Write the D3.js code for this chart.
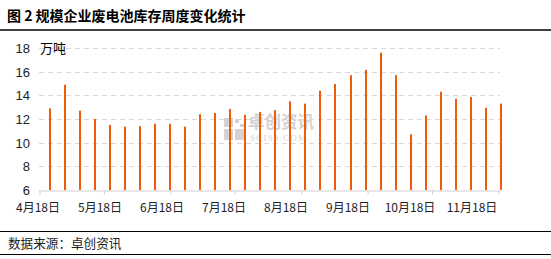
<!DOCTYPE html>
<html><head><meta charset="utf-8">
<script src="https://cdn.jsdelivr.net/npm/d3@7"></script>
<style>
html,body{margin:0;padding:0;background:#fff;}
svg{display:block;font-family:"Noto Sans CJK SC","Noto Sans",sans-serif;}
</style></head>
<body><svg id="c" width="551" height="259"></svg>
<script>
const dates = ["2024-04-23","2024-04-30","2024-05-07","2024-05-14","2024-05-21","2024-05-28",
"2024-06-04","2024-06-11","2024-06-18","2024-06-25","2024-07-02","2024-07-09","2024-07-16",
"2024-07-23","2024-07-30","2024-08-06","2024-08-13","2024-08-20","2024-08-27","2024-09-03",
"2024-09-10","2024-09-17","2024-09-24","2024-10-01","2024-10-08","2024-10-15","2024-10-22",
"2024-10-29","2024-11-05","2024-11-12","2024-11-19"];
const values = [12.9,14.9,12.7,12.0,11.5,11.35,11.4,11.6,11.6,11.35,12.4,12.5,12.85,12.35,12.6,12.75,
13.5,13.3,14.4,14.95,15.7,16.15,17.6,15.7,10.7,12.3,14.3,13.7,13.85,12.95,13.3];
const tickDates = ["2024-04-18","2024-05-18","2024-06-18","2024-07-18","2024-08-18","2024-09-18","2024-10-18","2024-11-18"];
const tickLabels = ["4月18日","5月18日","6月18日","7月18日","8月18日","9月18日","10月18日","11月18日"];
const yTicks = [6,8,10,12,14,16,18];
const title = "图 2 规模企业废电池库存周度变化统计";
const unit = "万吨";
const source = "数据来源：卓创资讯";

const svg = d3.select("#c");
const parse = d3.utcParse("%Y-%m-%d");
const x = d3.scaleUtc().domain([parse(tickDates[0]), parse(tickDates[tickDates.length-1])]).range([39.5, 498.5]);
const y = d3.scaleLinear().domain([6,18]).range([190, 48]);
const xl = d3.scalePoint().domain(tickLabels).range([38, 472]);

// title and frame lines
svg.append("text").attr("x",7).attr("y",21).attr("font-size",14).attr("font-weight","bold")
  .attr("fill","#000").text(title);
svg.append("line").attr("x1",0).attr("x2",551).attr("y1",30).attr("y2",30).attr("stroke","#000").attr("stroke-width",1.5);
svg.append("line").attr("x1",0).attr("x2",551).attr("y1",231.5).attr("y2",231.5).attr("stroke","#000").attr("stroke-width",1.2);
svg.append("line").attr("x1",0).attr("x2",551).attr("y1",254.5).attr("y2",254.5).attr("stroke","#000").attr("stroke-width",1.2);
svg.append("text").attr("x",8).attr("y",248).attr("font-size",12.6).attr("fill","#222").text(source);

// gridlines
svg.append("g").selectAll("line").data(yTicks.filter(d=>d>6)).join("line")
  .attr("x1",39).attr("x2",500).attr("y1",d=>Math.round(y(d))+0.5).attr("y2",d=>Math.round(y(d))+0.5)
  .attr("stroke","#d9d9d9").attr("stroke-width",1).attr("stroke-dasharray","5,4");

// watermark
const wm = svg.append("g").attr("fill","#d3d3d3");
wm.append("rect").attr("x",224).attr("y",118).attr("width",9).attr("height",9);
wm.append("rect").attr("x",224).attr("y",129).attr("width",9).attr("height",11);
wm.append("rect").attr("x",235).attr("y",129).attr("width",9).attr("height",11);
wm.append("rect").attr("x",235).attr("y",119).attr("width",4).attr("height",4);
wm.append("rect").attr("x",240).attr("y",124).attr("width",4).attr("height",3);
wm.append("text").attr("x",248).attr("y",128).attr("font-size",16.5).attr("font-weight","bold").text("卓创资讯");
wm.append("text").attr("x",250).attr("y",141).attr("font-size",9).attr("font-family","Liberation Serif, serif").attr("letter-spacing",1.3).text("SCI99.COM");

// bars
svg.append("g").selectAll("rect").data(values).join("rect")
  .attr("x",(d,i)=>Math.round(x(parse(dates[i])))-1)
  .attr("width",2)
  .attr("y",d=>y(d)).attr("height",d=>y(6)-y(d))
  .attr("fill","#EF5A0B");

// y axis labels
svg.append("g").selectAll("text").data(yTicks).join("text")
  .attr("x",30).attr("y",d=>y(d)+5).attr("text-anchor","end")
  .attr("font-size",13).attr("fill","#222").attr("font-family","Liberation Sans, Arial, sans-serif").text(d=>d);
svg.append("text").attr("x",40).attr("y",53).attr("font-size",13).attr("fill","#000").text(unit);

// x axis
const xAxis = d3.axisBottom(x).tickValues(tickDates.map(parse)).tickSize(4).tickFormat("");
const gx = svg.append("g").attr("transform","translate(0,190.5)").call(xAxis);
gx.select(".domain").attr("stroke","#d0d0d0").attr("d","M39,0.5H500");
gx.selectAll(".tick line").attr("stroke","#d0d0d0");
svg.append("g").selectAll("text").data(tickLabels).join("text")
  .attr("x",d=>xl(d)).attr("y",212).attr("text-anchor","middle")
  .attr("font-size",12).attr("fill","#222").text(d=>d);
</script></body></html>
